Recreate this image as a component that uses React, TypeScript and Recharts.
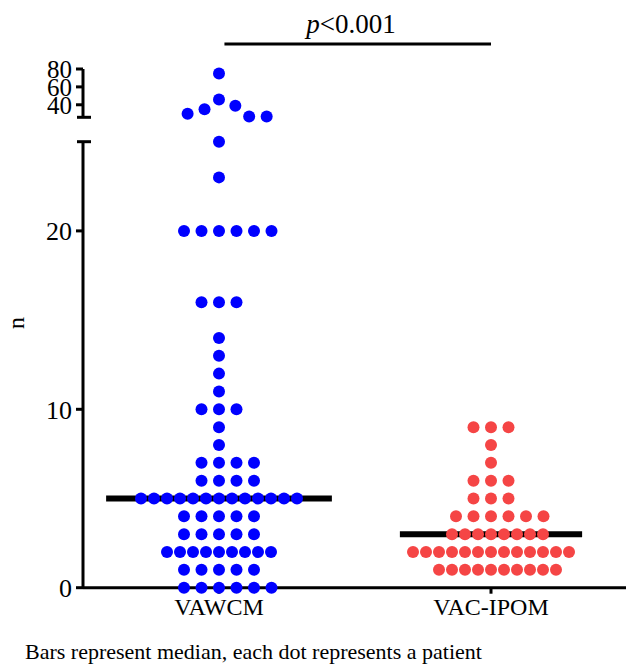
import React from 'react';
import { ScatterChart, Scatter, XAxis, YAxis, ReferenceLine } from 'recharts';

const categories = ['VAWCM', 'VAC-IPOM'];

// one entry per patient
const vawcmValues = [
  75, 46, 39, 35, 30, 27, 27,
  25, 23,
  20, 20, 20, 20, 20, 20,
  16, 16, 16,
  14, 13, 12, 11,
  10, 10, 10,
  9, 8,
  7, 7, 7, 7,
  6, 6, 6, 6,
  5, 5, 5, 5, 5, 5, 5, 5, 5, 5, 5, 5, 5,
  4, 4, 4, 4, 4,
  3, 3, 3, 3, 3,
  2, 2, 2, 2, 2, 2, 2, 2, 2,
  1, 1, 1, 1, 1,
  0, 0, 0, 0, 0, 0,
];

const vacIpomValues = [
  9, 9, 9,
  8, 7,
  6, 6, 6,
  5, 5, 5,
  4, 4, 4, 4, 4, 4,
  3, 3, 3, 3, 3, 3, 3, 3,
  2, 2, 2, 2, 2, 2, 2, 2, 2, 2, 2, 2, 2,
  1, 1, 1, 1, 1, 1, 1, 1, 1, 1,
];

const lowerTicks = [0, 10, 20];
const upperTicks = [40, 60, 80];
const pText = '<0.001';
const note = 'Bars represent median, each dot represents a patient';

const FONT = "'Times New Roman', 'Liberation Serif', serif";
const COLORS = ['#0000FF', '#F54545'];
const MEDIAN_HALF = [0.415, 0.335];

// layout
const CHART_W = 640;
const PLOT_LEFT = 83;
const PLOT_RIGHT = 627;
const X_DOMAIN: [number, number] = [-0.5, 1.5];
const LOWER_TOP = 141.7;
const LOWER_BOTTOM = 587.7;
const LOWER_DOMAIN: [number, number] = [0, 25];
const UPPER_TOP = 69;
const UPPER_BOTTOM = 117.3;
const UPPER_DOMAIN: [number, number] = [26, 80];
const SPLIT = 25.5;
const DOT_R = 6;

const xPerPx = (X_DOMAIN[1] - X_DOMAIN[0]) / (PLOT_RIGHT - PLOT_LEFT);

const lowerPx = (v: number) =>
  LOWER_BOTTOM - ((v - LOWER_DOMAIN[0]) * (LOWER_BOTTOM - LOWER_TOP)) / (LOWER_DOMAIN[1] - LOWER_DOMAIN[0]);
const upperPx = (v: number) =>
  UPPER_BOTTOM - ((v - UPPER_DOMAIN[0]) * (UPPER_BOTTOM - UPPER_TOP)) / (UPPER_DOMAIN[1] - UPPER_DOMAIN[0]);

// beeswarm: each dot goes as close to the centre as it can without overlapping;
// crowded rows are packed tighter than sparse ones
function swarm(values: number[], center: number, toPx: (v: number) => number) {
  const placed: { px: number; py: number }[] = [];
  const out: { x: number; y: number }[] = [];
  [...values].sort((a, b) => b - a).forEach((v) => {
    const n = values.filter((w) => w === v).length;
    const gap = n > 6 ? 13 : 17.5;
    const py = toPx(v);
    const spans: [number, number][] = [];
    placed.forEach((p) => {
      const dy = Math.abs(p.py - py);
      if (dy < gap) {
        const h = Math.sqrt(gap * gap - dy * dy);
        spans.push([p.px - h, p.px + h]);
      }
    });
    const cands = [0, ...spans.flat()].filter((c) =>
      spans.every(([a, b]) => c <= a + 1e-6 || c >= b - 1e-6)
    );
    cands.sort((a, b) => Math.abs(a) - Math.abs(b) || b - a);
    const px = cands[0];
    placed.push({ px, py });
    out.push({ x: center + px * xPerPx, y: v });
  });
  return out;
}

const median = (vals: number[]) => {
  const s = [...vals].sort((a, b) => a - b);
  const m = Math.floor(s.length / 2);
  return s.length % 2 ? s[m] : (s[m - 1] + s[m]) / 2;
};

const groups = [vawcmValues, vacIpomValues];
const lowerData = groups.map((g, i) => swarm(g.filter((v) => v < SPLIT), i, lowerPx));
const upperData = groups.map((g, i) => swarm(g.filter((v) => v >= SPLIT), i, upperPx));
const medians = groups.map(median);

const Dot = (color: string) => (props: any) =>
  <circle cx={props.cx} cy={props.cy} r={DOT_R} fill={color} />;

const axisStyle = { stroke: '#000', strokeWidth: 3 };
const xTickStyle = { fill: '#000', fontSize: 24, fontFamily: FONT };
const yTickStyle = { fill: '#000', fontSize: 26, fontFamily: FONT };
const upTickStyle = { fill: '#000', fontSize: 25, fontFamily: FONT };
const capX = [X_DOMAIN[0] - 6 * xPerPx, X_DOMAIN[0] + 8 * xPerPx];
const upperH = 130;

export default function App() {
  return (
    <div style={{ position: 'absolute', left: 0, top: 0, width: 626, height: 665, overflow: 'hidden', background: '#fff' }}>
      {/* upper segment of the broken axis */}
      <div style={{ position: 'absolute', left: 0, top: 0 }}>
        <ScatterChart
          width={CHART_W}
          height={upperH}
          margin={{ top: UPPER_TOP, right: CHART_W - PLOT_RIGHT, bottom: upperH - UPPER_BOTTOM, left: 0 }}
        >
          <XAxis type="number" dataKey="x" domain={X_DOMAIN} hide />
          <YAxis
            type="number"
            dataKey="y"
            width={PLOT_LEFT}
            domain={UPPER_DOMAIN}
            ticks={upperTicks}
            interval={0}
            axisLine={axisStyle}
            tickLine={axisStyle}
            tickSize={7}
            tickMargin={4}
            tick={upTickStyle}
          />
          <ReferenceLine
            segment={[{ x: capX[0], y: UPPER_DOMAIN[0] }, { x: capX[1], y: UPPER_DOMAIN[0] }]}
            stroke="#000"
            strokeWidth={3}
            ifOverflow="visible"
          />
          <ReferenceLine
            segment={[{ x: 0.02, y: 108 }, { x: 1, y: 108 }]}
            stroke="#000"
            strokeWidth={3}
            ifOverflow="visible"
          />
          {upperData.map((d, i) => (
            <Scatter key={i} data={d} shape={Dot(COLORS[i])} isAnimationActive={false} />
          ))}
        </ScatterChart>
      </div>

      {/* lower segment */}
      <div style={{ position: 'absolute', left: 0, top: 0 }}>
        <ScatterChart
          width={CHART_W}
          height={665}
          margin={{ top: LOWER_TOP, right: CHART_W - PLOT_RIGHT, bottom: 665 - LOWER_BOTTOM - 40, left: 0 }}
        >
          <XAxis
            type="number"
            dataKey="x"
            domain={X_DOMAIN}
            ticks={[0, 1]}
            interval={0}
            tickFormatter={(v: number) => categories[v]}
            height={40}
            axisLine={axisStyle}
            tickLine={axisStyle}
            tickSize={6}
            tickMargin={4}
            tick={xTickStyle}
          />
          <YAxis
            type="number"
            dataKey="y"
            width={PLOT_LEFT}
            domain={LOWER_DOMAIN}
            ticks={lowerTicks}
            interval={0}
            axisLine={axisStyle}
            tickLine={axisStyle}
            tickSize={7}
            tickMargin={4}
            tick={yTickStyle}
          />
          <ReferenceLine
            segment={[{ x: capX[0], y: LOWER_DOMAIN[1] }, { x: capX[1], y: LOWER_DOMAIN[1] }]}
            stroke="#000"
            strokeWidth={3}
            ifOverflow="visible"
          />
          {medians.map((m, i) => (
            <ReferenceLine
              key={'m' + i}
              segment={[{ x: i - MEDIAN_HALF[i], y: m }, { x: i + MEDIAN_HALF[i], y: m }]}
              stroke="#000"
              strokeWidth={6}
              ifOverflow="visible"
            />
          ))}
          {lowerData.map((d, i) => (
            <Scatter key={i} data={d} shape={Dot(COLORS[i])} isAnimationActive={false} />
          ))}
        </ScatterChart>
      </div>

      <svg width={626} height={665} style={{ position: 'absolute', left: 0, top: 0, pointerEvents: 'none' }}>
        <text x={351} y={33} textAnchor="middle" fontSize={27} fontFamily={FONT}>
          <tspan fontStyle="italic">p</tspan>
          {pText}
        </text>
        <text transform="translate(23.5,323) rotate(-90)" textAnchor="middle" fontSize={24} fontFamily={FONT}>
          n
        </text>
        <text x={25} y={659} fontSize={22} fontFamily={FONT}>
          {note}
        </text>
      </svg>
    </div>
  );
}
